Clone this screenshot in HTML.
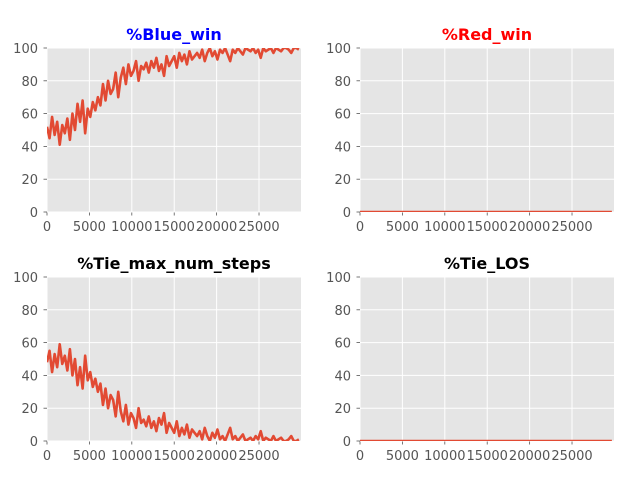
<!DOCTYPE html>
<html><head><meta charset="utf-8"><style>
html,body{margin:0;padding:0;background:#fff;}
svg{display:block;font-family:"DejaVu Sans","Liberation Sans",sans-serif;}
</style></head><body>
<svg id="fig" width="640" height="480" xmlns="http://www.w3.org/2000/svg"></svg>
<script>
const xStep = 300;
const xTicks = [0,5000,10000,15000,20000,25000];
const yTicks = [0,20,40,60,80,100];
const blueWin = [52,45,58,47,55,41,53,48,57,44,
60,50,66,55,68,48,63,58,67,62,
70,65,78,68,80,72,75,85,70,82,
88,78,90,83,86,92,80,89,87,91,
85,92,88,94,86,90,83,95,89,92,
95,88,97,92,96,90,98,93,95,97,
94,99,92,97,100,95,98,93,99,97,
100,96,92,99,97,100,98,96,100,99,
98,100,97,99,94,100,98,99,100,97,
100,99,98,100,100,99,97,100,100,99];
const redWin = [0,0,0,0,0,0,0,0,0,0,0,0,0,0,0,0,0,0,0,0,0,0,0,0,0,0,0,0,0,0,0,0,0,0,0,0,0,0,0,0,0,0,0,0,0,0,0,0,0,0,
0,0,0,0,0,0,0,0,0,0,0,0,0,0,0,0,0,0,0,0,0,0,0,0,0,0,0,0,0,0,0,0,0,0,0,0,0,0,0,0,0,0,0,0,0,0,0,0,0,0];
const tieSteps = [48,55,42,53,45,59,47,52,43,56,
40,50,34,45,32,52,37,42,33,38,
30,35,22,32,20,28,25,15,30,18,
12,22,10,17,14,8,20,11,13,9,
15,8,12,6,14,10,17,5,11,8,
5,12,3,8,4,10,2,7,5,3,
6,1,8,3,0,5,2,7,1,3,
0,4,8,1,3,0,2,4,0,1,
2,0,3,1,6,0,2,1,0,3,
0,1,2,0,0,1,3,0,0,1];
const tieLos = [0,0,0,0,0,0,0,0,0,0,0,0,0,0,0,0,0,0,0,0,0,0,0,0,0,0,0,0,0,0,0,0,0,0,0,0,0,0,0,0,0,0,0,0,0,0,0,0,0,0,
0,0,0,0,0,0,0,0,0,0,0,0,0,0,0,0,0,0,0,0,0,0,0,0,0,0,0,0,0,0,0,0,0,0,0,0,0,0,0,0,0,0,0,0,0,0,0,0,0,0];

const NS="http://www.w3.org/2000/svg";
const svg=document.getElementById('fig');
function mk(tag,attrs,parent){const e=document.createElementNS(NS,tag);for(const k in attrs)e.setAttribute(k,attrs[k]);(parent||svg).appendChild(e);return e;}
const XMAX=29950;
const panels=[
 {name:'blue-win',title:'%Blue_win',color:'#0000ff',data:blueWin,x0:47,y0:48},
 {name:'red-win',title:'%Red_win',color:'#ff0000',data:redWin,x0:360,y0:48},
 {name:'tie-max-num-steps',title:'%Tie_max_num_steps',color:'#000000',data:tieSteps,x0:47,y0:277},
 {name:'tie-los',title:'%Tie_LOS',color:'#000000',data:tieLos,x0:360,y0:277}];
const W=254,H=164;
const defs=mk('defs',{});
panels.forEach((p,pi)=>{
 const cp=mk('clipPath',{id:'clip'+pi},defs);
 mk('rect',{x:p.x0,y:p.y0,width:W,height:H},cp);
 const g=mk('g',{});
 
 
 const sx=v=>p.x0+v/XMAX*W, sy=v=>p.y0+H-v/100*H;
 const bg=mk('rect',{x:p.x0,y:p.y0,width:W,height:H,fill:'#E5E5E5'},g);
 
 
 xTicks.forEach(t=>{
  const x=sx(t);
  mk('line',{x1:x,x2:x,y1:p.y0,y2:p.y0+H,stroke:'#fff','stroke-width':1},g);
  mk('line',{x1:x,x2:x,y1:p.y0+H,y2:p.y0+H+3.5,stroke:'#555','stroke-width':0.8},g);
  const tx=mk('text',{x:x,y:p.y0+H+19,'text-anchor':'middle','font-size':13,fill:'#555'},g);
  tx.textContent=t;
  
  
 });
 yTicks.forEach(t=>{
  const y=sy(t);
  mk('line',{x1:p.x0,x2:p.x0+W,y1:y,y2:y,stroke:'#fff','stroke-width':1},g);
  mk('line',{x1:p.x0-3.5,x2:p.x0,y1:y,y2:y,stroke:'#555','stroke-width':0.8},g);
  const ty=mk('text',{x:p.x0-9,y:y+5,'text-anchor':'end','font-size':13,fill:'#555'},g);
  ty.textContent=t;
  
  
 });
 const pts=p.data.map((v,i)=>sx(i*xStep).toFixed(2)+','+sy(v).toFixed(2)).join(' ');
 const line=mk('polyline',{points:pts,fill:'none',stroke:'#E24A33','stroke-width':2.6,'stroke-linejoin':'round','clip-path':'url(#clip'+pi+')'},g);
 
 
 const tt=mk('text',{x:p.x0+W/2,y:p.y0-8,'text-anchor':'middle','font-size':16,'font-weight':'bold',fill:p.color},g);
 tt.textContent=p.title;
 
 
});
</script>
</body></html>
